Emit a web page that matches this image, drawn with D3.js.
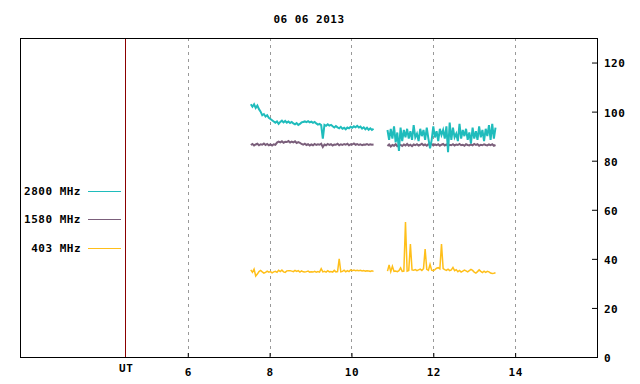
<!DOCTYPE html>
<html>
<head>
<script src="https://cdnjs.cloudflare.com/ajax/libs/d3/7.8.5/d3.min.js"></script>
<style>
body {margin: 0; background: #fff;}
text {font-family: "DejaVu Sans Mono", monospace; font-weight: bold; font-size: 11px; letter-spacing: 0.5px; fill: #000;}
</style>
</head>
<body>
<svg id="chart" width="640" height="384"></svg>
<script>
var title = "06 06 2013";
var xTicks = [6, 8, 10, 12, 14];
var yTicks = [0, 20, 40, 60, 80, 100, 120];
var seriesNames = ["2800 MHz", "1580 MHz", "403 MHz"];
var seriesColors = ["#1fbcbc", "#7b5f7b", "#ffbf1a"];
var seriesWidths = [2, 2, 1.5];

// sampling of the two recording periods (hours UT)
var seg1Start = 7.54;
var seg2Start = 10.88;
var step = 0.04;

var mhz2800Seg1 = [
  103, 102, 103, 101.5, 102.5, 101, 100, 98.5, 99, 98,
  98.5, 97.5, 97, 96.5, 96, 95.5, 96, 95, 95.8, 96.3,
  95.6, 96.2, 95.5, 96, 95.4, 95.8, 95.2, 94.8, 95.3, 94.6,
  95, 95.6, 95.8, 96, 95.7, 96.1, 95.6, 95.9, 95.4, 95.8,
  95.2, 94.7, 95, 94.5, 89, 94.6, 94.2, 94.8, 94.3, 94.6,
  94, 93.5, 94.1, 93.6, 93.2, 93.8, 93, 93.4, 92.8, 93.5,
  93.2, 93.8, 93.4, 94, 93.6, 94.2, 93.5, 93.9, 93.1, 93.6,
  92.8, 93.4, 92.6, 93.2, 92.5, 93];
var mhz2800Seg2 = [
  92.5, 88.5, 93, 89, 94, 87.5, 91.5, 84, 93.5, 88,
  92.5, 89.5, 93, 89, 92, 88.5, 94.5, 89.5, 91, 88,
  93, 90, 92.5, 88.5, 93.5, 89, 85, 88.5, 94, 89.5,
  92, 88, 93, 90.5, 92.5, 89, 94, 83.5, 95.5, 88.5,
  93.5, 89.5, 91, 88, 95, 89, 92.5, 90, 93, 88.5,
  91.5, 87, 93.5, 89, 92, 88.5, 94, 89.5, 92.5, 88,
  93, 90, 94.5, 88.5, 95, 89, 93.5];

var mhz1580Seg1 = [
  86.4, 86.8, 86.2, 86.6, 86.9, 86.3, 86.7, 86.5, 87, 86.4,
  86.8, 86.3, 86.6, 86.2, 86.7, 86.5, 87.4, 87.8, 87.5, 87.9,
  87.3, 87.7, 87.6, 88, 87.4, 87.8, 87.5, 87.9, 87.2, 87.6,
  87.3, 86.8, 86.5, 86.9, 86.4, 86.7, 86.2, 86.6, 86.3, 86.8,
  86.4, 86.7, 86.5, 86.9, 85.6, 86.6, 86.3, 86.8, 86.4, 86.7,
  86.2, 86.6, 86.5, 86.9, 86.3, 86.7, 86.4, 86.8, 86.5, 86.9,
  86.3, 86.7, 86.6, 87, 86.5, 86.8, 86.4, 86.7, 86.3, 86.6,
  86.5, 86.8, 86.4, 86.7, 86.5, 86.6];
var mhz1580Seg2 = [
  86, 86.6, 85.8, 86.4, 86.1, 86.7, 85.9, 86.3, 86.5, 86,
  86.6, 86.2, 86.8, 86.1, 86.5, 85.9, 86.6, 86.3, 86.7, 86.2,
  86.5, 86.9, 86.3, 86.6, 86.1, 86.7, 86.4, 86.8, 86.2, 86.6,
  86.3, 86.7, 86.1, 86.5, 86.8, 86.2, 86.6, 86, 86.5, 86.3,
  86.7, 86.2, 86.6, 86.4, 86.8, 86.3, 86.5, 86.1, 86.7, 86.4,
  86.2, 86.6, 86.3, 86.8, 86.4, 86.7, 86.1, 86.5, 86.3, 86.7,
  86.4, 86.2, 86.6, 86.3, 86.7, 86.1, 86.4];

var mhz403Seg1 = [
  35.5, 34.5, 35.8, 33, 33.8, 34.8, 35.3, 34.7, 34.2, 34.5,
  35, 34.6, 34.8, 34.3, 34.7, 34.9, 34.5, 35.3, 34.8, 35.4,
  34.7, 34.5, 35.1, 35.2, 35.2, 35, 34.8, 35.3, 34.9, 35.2,
  34.6, 35.1, 34.7, 34.6, 34.8, 35, 34.6, 34.7, 34.6, 34.9,
  34.6, 34.8, 34.6, 36, 34.7, 34.9, 34.6, 35.2, 34.7, 34.8,
  34.6, 35.3, 34.7, 34.8, 40, 34.7, 34.9, 35.4, 34.7, 35.2,
  34.8, 35.5, 35.2, 35.4, 35.2, 35.3, 35.2, 35.3, 35.1, 35.2,
  35, 35.1, 35, 34.9, 35.1, 34.9];
var mhz403Seg2 = [
  35, 37.5, 34.8, 37, 34.9, 35, 34.8, 35.2, 36.3, 34.9,
  35, 55, 35, 35.3, 46, 35.5, 35.4, 35.6, 35.2, 35.5,
  35.8, 35.3, 36, 44, 35.7, 35.3, 37.8, 35.4, 35.2, 35.6,
  36.2, 36.4, 35.9, 46, 36, 35.6, 35.3, 35.8, 35.2, 35.5,
  36.5, 35.2, 35.6, 34.8, 35.3, 34.6, 35, 35.4, 35.1, 34.7,
  35.2, 35.7, 35.3, 34.6, 34.2, 34.8, 35.5, 34.9, 34.4, 35,
  34.5, 34.9, 34.7, 34.2, 34, 34.1, 34.3];

var utMark = 4.47;

var svg = d3.select("#chart");
var plotLeft = 20, plotRight = 597, plotTop = 38, plotBottom = 357;

var x = d3.scaleLinear().domain([1.9, 16]).range([plotLeft, plotRight]);
var y = d3.scaleLinear().domain([0, 130]).range([plotBottom, plotTop]);

// dashed grid
svg.append("g")
  .selectAll("line")
  .data(xTicks)
  .enter()
  .append("line")
    .attr("x1", d => Math.round(x(d)) + 0.5)
    .attr("x2", d => Math.round(x(d)) + 0.5)
    .attr("y1", plotTop)
    .attr("y2", plotBottom)
    .style("stroke", "#999")
    .style("stroke-dasharray", "3,4");

// UT marker
svg.append("line")
  .attr("x1", Math.round(x(utMark)) + 0.5)
  .attr("x2", Math.round(x(utMark)) + 0.5)
  .attr("y1", plotTop)
  .attr("y2", plotBottom)
  .style("stroke", "#8b0000");

// bottom axis, ticks pointing in
var xAxis = svg.append("g")
  .attr("transform", "translate(0," + plotBottom + ")")
  .call(d3.axisBottom(x).tickValues(xTicks).tickSize(-4).tickSizeOuter(0).tickPadding(11));
xAxis.select(".domain").remove();
xAxis.selectAll("text").style("font-size", "11px").style("font-family", null);

svg.append("text")
  .attr("x", x(utMark) + 1)
  .attr("y", plotBottom + 15)
  .attr("text-anchor", "middle")
  .text("UT");

// right axis
var yAxis = svg.append("g")
  .attr("transform", "translate(" + plotRight + ",0)")
  .call(d3.axisRight(y).tickValues(yTicks).tickSize(-5).tickSizeOuter(0).tickPadding(7));
yAxis.select(".domain").remove();
yAxis.selectAll("text").style("font-size", "11px").style("font-family", null).attr("dy", "0.4em");

// frame
svg.append("rect")
  .attr("x", plotLeft + 0.5)
  .attr("y", plotTop + 0.5)
  .attr("width", plotRight - plotLeft)
  .attr("height", plotBottom - plotTop)
  .style("fill", "none")
  .style("stroke", "#000");

svg.append("text")
  .attr("x", 309)
  .attr("y", 23)
  .attr("text-anchor", "middle")
  .text(title);

var line = d3.line()
  .x(d => x(d[0]))
  .y(d => y(d[1]));

function toPoints(start, values) {
  return values.map((v, i) => [start + i * step, v]);
}

var series = [
  [mhz2800Seg1, mhz2800Seg2],
  [mhz1580Seg1, mhz1580Seg2],
  [mhz403Seg1, mhz403Seg2]
];

// purple under cyan, gold on top
[1, 0, 2].forEach(k => {
  [toPoints(seg1Start, series[k][0]), toPoints(seg2Start, series[k][1])].forEach(pts => {
    svg.append("path")
      .datum(pts)
      .attr("d", line)
      .style("fill", "none")
      .style("stroke", seriesColors[k])
      .style("stroke-width", seriesWidths[k]);
  });
});

// legend
var legendY = [191, 219, 248];
seriesNames.forEach((name, i) => {
  svg.append("text")
    .attr("x", 81)
    .attr("y", legendY[i] + 4)
    .attr("text-anchor", "end")
    .text(name);
  svg.append("line")
    .attr("x1", 88)
    .attr("x2", 121)
    .attr("y1", legendY[i] + 0.5)
    .attr("y2", legendY[i] + 0.5)
    .style("stroke", seriesColors[i]);
});
</script>
</body>
</html>
